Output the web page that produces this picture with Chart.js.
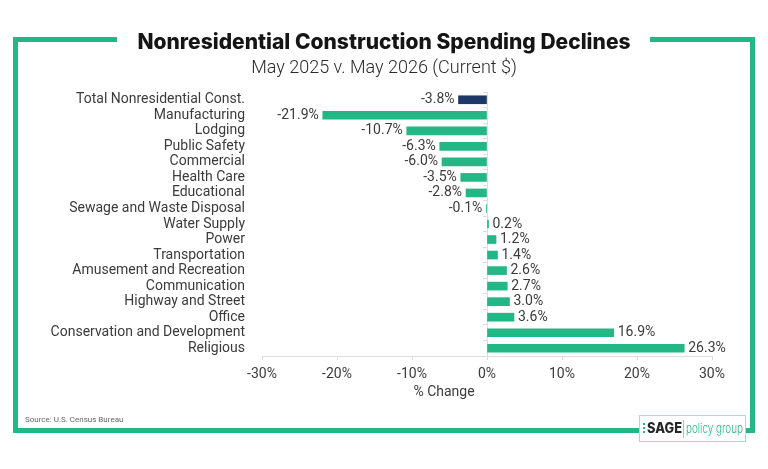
<!DOCTYPE html>
<html>
<head>
<meta charset="utf-8">
<script src="https://cdn.jsdelivr.net/npm/chart.js@4/dist/chart.umd.min.js"></script>
<style>
  html, body { margin: 0; padding: 0; background: #fff; }
  canvas { display: block; }
</style>
</head>
<body>
<canvas id="chart" width="768" height="469"></canvas>
<script>
// Data
const categories = [
    'Total Nonresidential Const.', 'Manufacturing', 'Lodging', 'Public Safety',
    'Commercial', 'Health Care', 'Educational', 'Sewage and Waste Disposal',
    'Water Supply', 'Power', 'Transportation', 'Amusement and Recreation',
    'Communication', 'Highway and Street', 'Office',
    'Conservation and Development', 'Religious'
];
const changes = [-3.8, -21.9, -10.7, -6.3, -6.0, -3.5, -2.8, -0.1,
    0.2, 1.2, 1.4, 2.6, 2.7, 3.0, 3.6, 16.9, 26.3];
const xTicks = [-30, -20, -10, 0, 10, 20, 30];

const titleText = 'Nonresidential Construction Spending Declines';
const subtitleText = 'May 2025 v. May 2026 (Current $)';
const xTitleText = '% Change';
const sourceText = 'Source: U.S. Census Bureau';

const GREEN = '#22b784';
const NAVY = '#1d3868';
const TEXT = '#3b3b3b';

const barColors = categories.map((c, i) => i === 0 ? NAVY : GREEN);

// frame, title and logo around the plot
const framePlugin = {
    id: 'frame',
    beforeDraw(chart) {
        const ctx = chart.ctx;
        ctx.save();
        ctx.fillStyle = '#fff';
        ctx.fillRect(0, 0, chart.width, chart.height);

        ctx.fillStyle = GREEN;
        ctx.fillRect(13, 37, 5, 396);     // left
        ctx.fillRect(750, 37, 5, 396);    // right
        ctx.fillRect(13, 37, 104, 5);     // top left
        ctx.fillRect(650, 37, 105, 5);    // top right
        ctx.fillRect(13, 428, 742, 5);    // bottom

        // title
        ctx.fillStyle = '#151515';
        ctx.textAlign = 'center';
        ctx.textBaseline = 'middle';
        ctx.font = '800 21px Inter';
        ctx.fillText(titleText, 384, 43, 505);
        ctx.fillStyle = '#2a2a2a';
        ctx.font = '300 18px Roboto';
        ctx.fillText(subtitleText, 384, 68, 290);

        // x axis title (sits left of the plot centre in the reference)
        ctx.fillStyle = TEXT;
        ctx.font = '14px Roboto';
        ctx.fillText(xTitleText, 444, 392);

        // source
        ctx.fillStyle = '#666';
        ctx.textAlign = 'left';
        ctx.font = '8px Roboto';
        ctx.fillText(sourceText, 25, 420);
        ctx.restore();
    },
    afterDraw(chart) {
        const ctx = chart.ctx;
        ctx.save();
        // logo box
        ctx.fillStyle = '#fff';
        ctx.fillRect(639, 415, 107, 27);
        ctx.strokeStyle = '#a8dfc8';
        ctx.lineWidth = 1;
        ctx.strokeRect(639.5, 415.5, 106, 26);
        ctx.fillStyle = GREEN;
        [423, 427, 431].forEach(y => ctx.fillRect(643, y, 2, 2));
        ctx.fillStyle = '#262626';
        ctx.textBaseline = 'middle';
        ctx.textAlign = 'left';
        ctx.font = '800 14px Inter';
        ctx.fillText('SAGE', 647, 429, 35);
        ctx.strokeStyle = '#bbb';
        ctx.beginPath();
        ctx.moveTo(683.5, 420);
        ctx.lineTo(683.5, 438);
        ctx.stroke();
        ctx.fillStyle = GREEN;
        ctx.font = '300 13px Inter';
        ctx.fillText('policy group', 686, 429, 57);
        ctx.restore();
    }
};

// value labels at the end of each bar
const valueLabels = {
    id: 'valueLabels',
    afterDatasetsDraw(chart) {
        const ctx = chart.ctx;
        const meta = chart.getDatasetMeta(0);
        ctx.save();
        ctx.font = '14px Roboto';
        ctx.fillStyle = TEXT;
        ctx.textBaseline = 'middle';
        meta.data.forEach((bar, i) => {
            const v = changes[i];
            const txt = v.toFixed(1) + '%';
            if (v < 0) {
                ctx.textAlign = 'right';
                ctx.fillText(txt, bar.x - 4, bar.y);
            } else {
                ctx.textAlign = 'left';
                ctx.fillText(txt, bar.x + 4, bar.y);
            }
        });
        ctx.restore();
    }
};

const ctx = document.getElementById('chart').getContext('2d');
const chart = new Chart(ctx, {
    type: 'bar',
    data: {
        labels: categories,
        datasets: [{
            data: changes,
            backgroundColor: barColors,
            borderWidth: 0,
            barThickness: 8,
            yAxisID: 'y'
        }]
    },
    options: {
        indexAxis: 'y',
        responsive: false,
        animation: false,
        devicePixelRatio: 1,
        layout: { padding: { left: 20, right: 56, top: 92, bottom: 65 } },
        plugins: {
            legend: { display: false },
            tooltip: { enabled: false }
        },
        scales: {
            x: {
                min: -30,
                max: 30,
                afterBuildTicks: (s) => { s.ticks = xTicks.map(v => ({ value: v })); },
                afterFit: (s) => { s.height = 48; },
                ticks: {
                    callback: (v) => v + '%',
                    font: { family: 'Roboto', size: 14 },
                    color: TEXT,
                    padding: 6
                },
                grid: { drawOnChartArea: false, tickLength: 4, color: '#ddd' },
                border: { display: true, color: '#ddd' }
            },
            y: {
                afterFit: (s) => { s.width = 242; },
                ticks: {
                    font: { family: 'Roboto', size: 14 },
                    color: TEXT,
                    padding: 17,
                    autoSkip: false
                },
                grid: { display: false, drawTicks: false },
                border: { display: false }
            },
            y2: {
                type: 'category',
                position: { x: 0 },
                offset: true,
                ticks: { display: false },
                grid: { offset: true, drawOnChartArea: false, tickLength: 4, color: '#ddd' },
                border: { display: true, color: '#ddd' }
            }
        }
    },
    plugins: [framePlugin, valueLabels]
});
</script>
</body>
</html>
